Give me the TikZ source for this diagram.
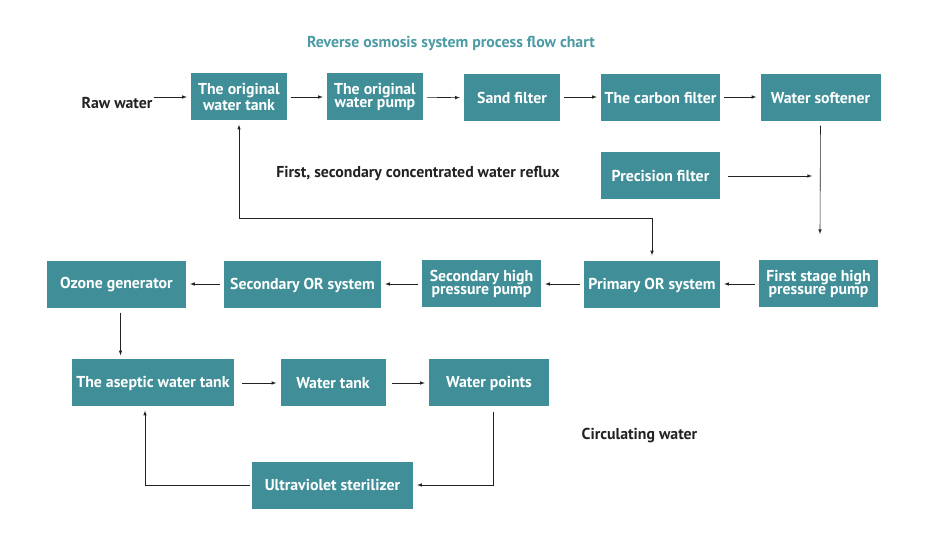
\documentclass[tikz,border=0pt]{standalone}
\usepackage{fontspec}
\setmainfont{PT Sans}
\usetikzlibrary{arrows}
\definecolor{boxteal}{HTML}{3F8E98}
\definecolor{titleteal}{HTML}{4B9AA4}
\definecolor{ink}{HTML}{222222}
\begin{document}
\begin{tikzpicture}[x=1pt, y=-1pt,
  box/.style = {fill=boxteal, text=white, minimum height=47pt, inner sep=0pt, align=center,
                font=\bfseries\fontsize{15.8}{13.5}\selectfont},
  note/.style = {text=ink, inner sep=0pt, font=\bfseries\fontsize{15.8}{16}\selectfont},
  flow/.style = {-latex, ink, line width=0.6pt, shorten >=4pt, shorten <=4pt}]
\useasboundingbox (0,0) rectangle (935,545);
\node [text=titleteal, font=\bfseries\fontsize{15.8}{16}\selectfont] (title) at (451,43) {Reverse osmosis system process flow chart};
\node [note] (raw) at (117,103) {Raw water};
\node [box, minimum width=96pt] (tank) at (239,97) {The original\\water tank};
\node [box, minimum width=96pt] (pump) at (375,97) {The original\\water pump};
\node [box, minimum width=96pt] (sand) at (512,98) {Sand filter};
\node [box, minimum width=119pt] (carbon) at (660.5,98) {The carbon filter};
\node [box, minimum width=120pt] (soft) at (820.5,98) {Water softener};
\node [box, minimum width=119pt] (prec) at (660.5,176) {Precision filter};
\node [note] (reflux) at (418,173) {First, secondary concentrated water reflux};
\node [box, minimum width=119pt] (hpone) at (818.5,284) {First stage high\\pressure pump};
\node [box, minimum width=136pt] (orone) at (652,285) {Primary OR system};
\node [box, minimum width=119pt] (hptwo) at (481.5,284) {Secondary high\\pressure pump};
\node [box, minimum width=157pt] (ortwo) at (302.5,285) {Secondary OR system};
\node [box, minimum width=139pt] (ozone) at (116.5,285) {Ozone generator};
\node [box, minimum width=162pt] (aseptic) at (153,383) {The aseptic water tank};
\node [box, minimum width=105pt] (wtank) at (333,383) {Water tank};
\node [box, minimum width=120pt] (points) at (489,383) {Water points};
\node [note] (circ) at (639.5,436) {Circulating water};
\node [box, minimum width=161pt] (uv) at (332.5,485) {Ultraviolet sterilizer};
\coordinate (precend) at (816,176);
\coordinate (softend) at (820,234);
\coordinate (bend) at (652,218);
\draw [flow, shorten <=1pt] (raw.east |- tank.west) -- (tank.west);
\draw [flow] (tank) -- (pump);
\draw [flow] (pump) -- (sand);
\draw [flow] (sand.east |- pump.east) -- (carbon.west |- pump.east);
\draw [flow] (carbon.east |- pump.east) -- (soft.west |- pump.east);
\draw [flow, shorten <=8pt] (prec.east) -- (precend);
\draw [flow, shorten >=0pt] (soft.south) -- (softend);
\draw [flow, latex-latex, shorten >=6pt] (tank.south) |- (bend) -- (orone.north);
\draw [flow] (hpone.west) -- (orone.east |- hpone.west);
\draw [flow] (orone.west |- hpone.west) -- (hptwo.east);
\draw [flow] (hptwo.west) -- (ortwo.east |- hptwo.west);
\draw [flow] (ortwo.west |- hptwo.west) -- (ozone.east |- hptwo.west);
\draw [flow] ([xshift=4pt]ozone.south) -- ([xshift=4pt]ozone.south |- aseptic.north);
\draw [flow, shorten <=8pt] (aseptic) -- (wtank);
\draw [flow, shorten <=6pt] (wtank) -- (points);
\draw [flow, shorten <=5pt] ([xshift=4pt]points.south) |- (uv.east);
\draw [flow, shorten <=2pt] (uv.west) -| ([xshift=-8pt]aseptic.south);
\end{tikzpicture}
\end{document}
